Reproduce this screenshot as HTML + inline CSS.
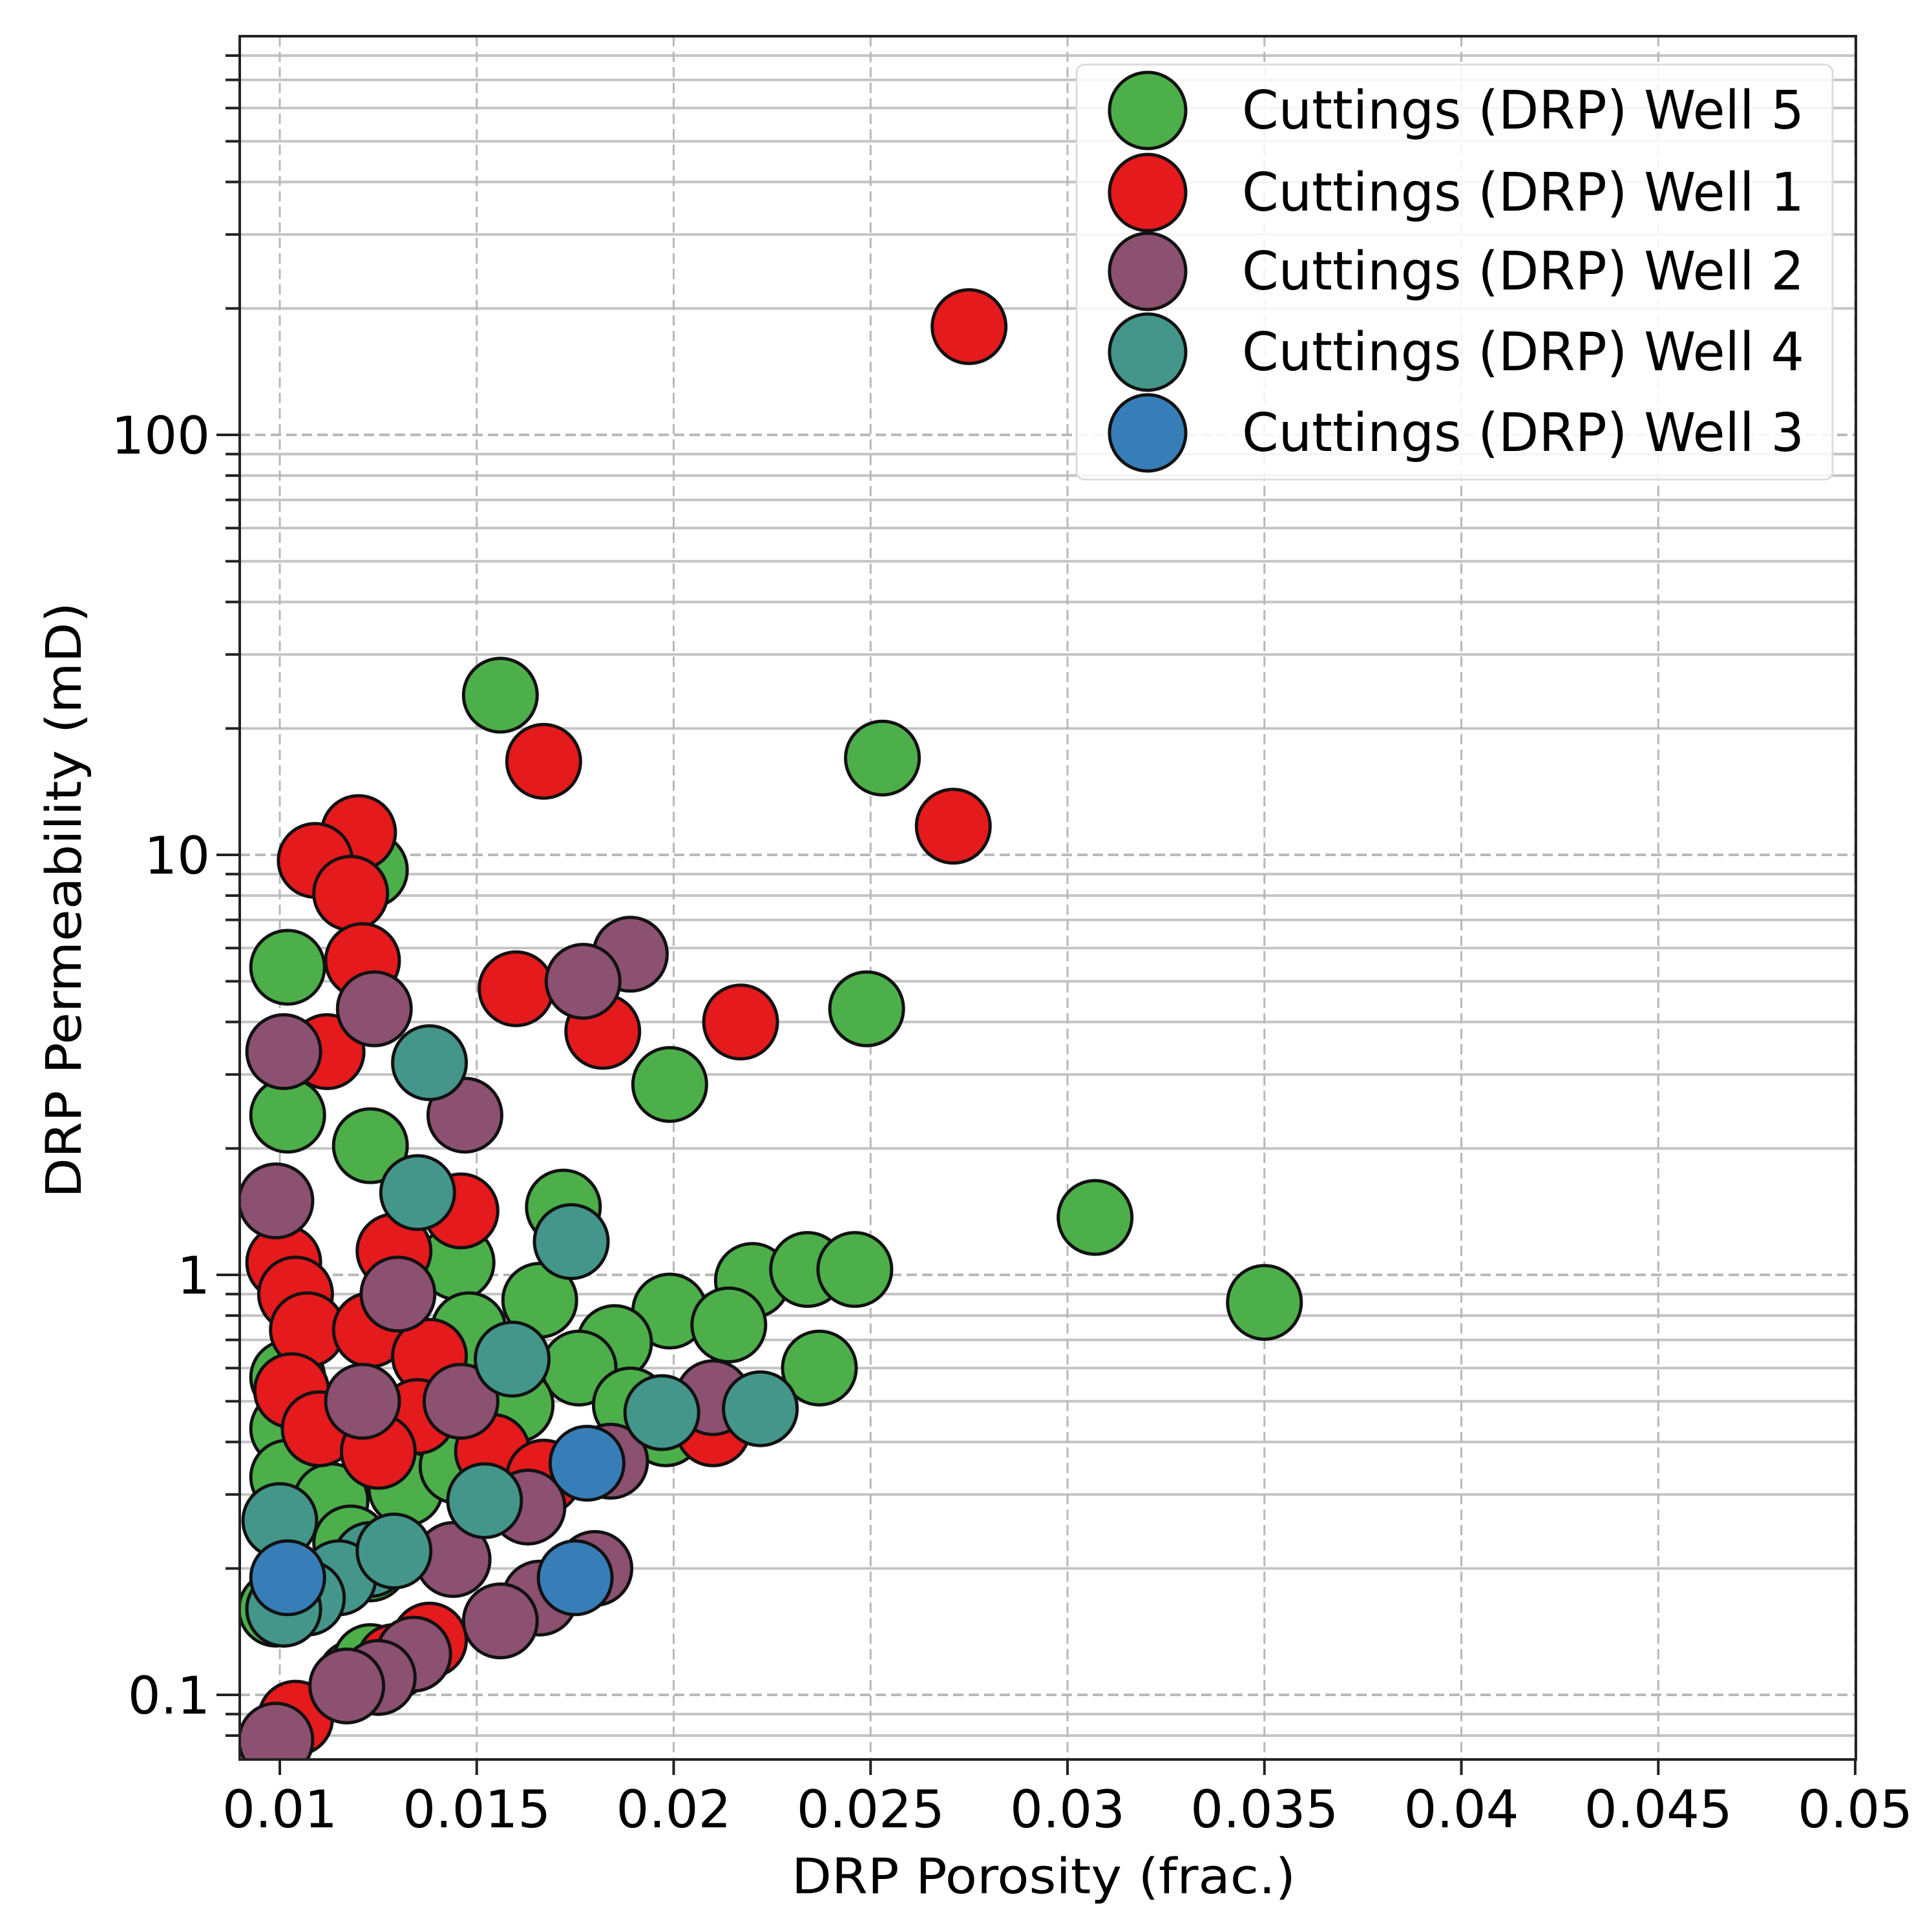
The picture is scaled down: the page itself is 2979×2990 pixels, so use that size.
<!DOCTYPE html>
<html><head><meta charset="utf-8"><style>
html,body{margin:0;padding:0;background:#fff;}
svg{display:block;}
text{font-family:"DejaVu Sans","Liberation Sans",sans-serif;fill:#000;}
</style></head><body>
<svg id="chart" width="2979" height="2990" viewBox="0 0 2979 2990" xmlns="http://www.w3.org/2000/svg">
<defs><clipPath id="plotclip"><rect x="371" y="56" width="2501" height="2667"/></clipPath></defs>
<rect x="0" y="0" width="2979" height="2990" fill="#fff"/>
<g id="grid"></g>
<g id="points" clip-path="url(#plotclip)"></g>
<rect x="371" y="56" width="2501" height="2667" fill="none" stroke="#222" stroke-width="4"/>
<g id="ticks"></g>
<text x="1615" y="2930" font-size="76" text-anchor="middle" textLength="780" lengthAdjust="spacingAndGlyphs">DRP Porosity (frac.)</text>
<text transform="translate(125,1393) rotate(-90)" font-size="76" text-anchor="middle" textLength="922" lengthAdjust="spacingAndGlyphs">DRP Permeability (mD)</text>
<g id="legend"></g>
</svg>
<script>
const seriesNames = ["Cuttings (DRP) Well 5","Cuttings (DRP) Well 1","Cuttings (DRP) Well 2","Cuttings (DRP) Well 4","Cuttings (DRP) Well 3"];
const seriesColors = ["#4daf4a","#e41a1c","#8c5070","#44968a","#377eb8"];
const xTicks = [0.01,0.015,0.02,0.025,0.03,0.035,0.04,0.045,0.05];
const xTickLabels = ["0.01","0.015","0.02","0.025","0.03","0.035","0.04","0.045","0.05"];
const yTicks = [0.1,1,10,100];
const yTickLabels = ["0.1","1","10","100"];
const well5X = [0.0156,0.0253,0.0249,0.0199,0.0307,0.035,0.0102,0.0102,0.0123,0.0172,0.0123,0.0145,0.0166,0.0199,0.022,0.0234,0.0246,0.0237,0.0214,0.0185,0.0176,0.0148,0.0198,0.016,0.0102,0.0102,0.0102,0.0113,0.0132,0.0145,0.0118,0.0123,0.0099,0.0119,0.0123,0.0189];
const well5Y = [24,17,4.3,2.84,1.37,0.86,5.4,2.4,2.03,1.45,9.2,1.07,0.87,0.82,0.97,1.03,1.03,0.60,0.76,0.69,0.60,0.74,0.43,0.49,0.57,0.43,0.33,0.29,0.31,0.35,0.23,0.205,0.16,0.11,0.12,0.49];
const well1X = [0.0275,0.0167,0.0271,0.0217,0.0182,0.016,0.012,0.0109,0.0118,0.0121,0.0112,0.0146,0.0129,0.0101,0.0104,0.0107,0.0123,0.0138,0.0103,0.011,0.0135,0.0125,0.0154,0.0167,0.021,0.0138,0.0129,0.0104];
const well1Y = [181,16.7,11.7,4.0,3.8,4.8,11.3,9.7,8.1,5.6,3.4,1.42,1.14,1.07,0.90,0.74,0.74,0.64,0.53,0.43,0.46,0.38,0.38,0.33,0.43,0.135,0.12,0.088];
const well2X = [0.0189,0.0177,0.0124,0.0101,0.0147,0.0099,0.0130,0.0121,0.0146,0.021,0.0184,0.0163,0.0144,0.018,0.0166,0.0156,0.0134,0.0125,0.0117,0.0099,0.0101];
const well2Y = [5.8,5.0,4.3,3.4,2.4,1.5,0.90,0.50,0.50,0.51,0.36,0.28,0.21,0.2,0.17,0.15,0.125,0.11,0.105,0.078,0.16];
const well4X = [0.0138,0.0135,0.0174,0.0159,0.0197,0.0222,0.0152,0.01,0.0123,0.0115,0.0107,0.0101,0.0129];
const well4Y = [3.2,1.57,1.2,0.63,0.47,0.48,0.29,0.26,0.21,0.19,0.17,0.16,0.22];
const well3X = [0.0178,0.0102,0.0175];
const well3Y = [0.356,0.19,0.19];

const NS = "http://www.w3.org/2000/svg";
const L=371,R=2872,T=56,B=2723;
function xs(v){return 433+(v-0.01)/0.005*304.75;}
function ys(v){return 1973-Math.log10(v)*650;}
function mk(tag,attrs,parent){const e=document.createElementNS(NS,tag);for(const k in attrs)e.setAttribute(k,attrs[k]);parent.appendChild(e);return e;}

const grid=document.getElementById('grid'), ticks=document.getElementById('ticks');
for(let d=-2;d<=2;d++){for(let m=2;m<=9;m++){const v=m*Math.pow(10,d);const y=ys(v);if(y<T||y>B)continue;
 const g=mk('line',{x1:L,x2:R,y1:y,y2:y,stroke:'#c4c4c4','stroke-width':4},grid);
 
 
 const t=mk('line',{x1:L-22,x2:L,y1:y,y2:y,stroke:'#222','stroke-width':4},ticks);
 
 }}
yTicks.forEach((v,i)=>{const y=ys(v);
 const g=mk('line',{x1:L,x2:R,y1:y,y2:y,stroke:'#b8b8b8','stroke-width':4,'stroke-dasharray':'16,8'},grid);
 
 
 const t=mk('line',{x1:L-36,x2:L,y1:y,y2:y,stroke:'#222','stroke-width':4},ticks);
 
 
 const tx=mk('text',{x:325,y:y+29,'font-size':80,'text-anchor':'end'},ticks);tx.textContent=yTickLabels[i];
 
 });
xTicks.forEach((v,i)=>{const x=xs(v);
 const g=mk('line',{x1:x,x2:x,y1:T,y2:B,stroke:'#b8b8b8','stroke-width':3,'stroke-dasharray':'16,8'},grid);
 
 
 const t=mk('line',{x1:x,x2:x,y1:B,y2:B+24,stroke:'#222','stroke-width':4},ticks);
 
 
 const tx=mk('text',{x:x,y:2828,'font-size':80,'text-anchor':'middle'},ticks);tx.textContent=xTickLabels[i];
 
 });

const pts=document.getElementById('points');
const series=[[well5X,well5Y],[well1X,well1Y],[well2X,well2Y],[well4X,well4Y],[well3X,well3Y]];
series.forEach((s,si)=>{s[0].forEach((xv,j)=>{
 const c=mk('circle',{cx:xs(xv),cy:ys(s[1][j]),r:57,fill:seriesColors[si],stroke:'#111','stroke-width':5},pts);
 
 });});

const lg=document.getElementById('legend');
const box=mk('rect',{x:1666,y:100,width:1170,height:642,rx:12,fill:'#fff','fill-opacity':0.85,stroke:'#ddd','stroke-width':3},lg);


const ly=[171,298,420,545,670];
seriesNames.forEach((n,i)=>{
 const c=mk('circle',{cx:1776,cy:ly[i],r:59,fill:seriesColors[i],stroke:'#111','stroke-width':5},lg);
 
 
 const t=mk('text',{x:1922,y:ly[i]+28,'font-size':82,textLength:870,lengthAdjust:'spacingAndGlyphs'},lg);t.textContent=n;
 
 });
</script>
</body></html>
